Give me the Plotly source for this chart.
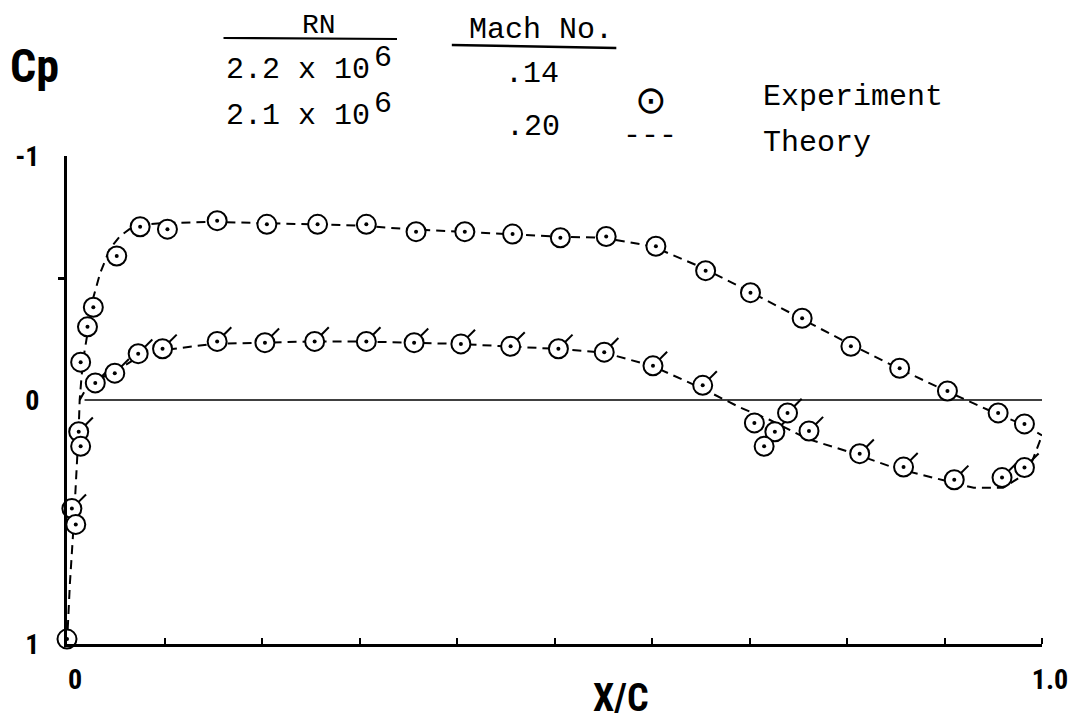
import plotly.graph_objects as go

# ---------------- data ----------------
# experiment, plain circles
plain_x = [0.000, 0.009, 0.014, 0.014, 0.021, 0.027, 0.051, 0.075, 0.103, 0.154,
           0.205, 0.257, 0.307, 0.358, 0.408, 0.457, 0.506, 0.553, 0.604, 0.655,
           0.701, 0.754, 0.804, 0.854, 0.903, 0.955, 0.982, 1.002, 0.705, 0.715]
plain_cp = [0.98, 0.51, 0.19, -0.155, -0.30, -0.38, -0.59, -0.71, -0.70, -0.735,
            -0.72, -0.72, -0.72, -0.69, -0.69, -0.68, -0.665, -0.67, -0.63, -0.53,
            -0.44, -0.335, -0.22, -0.13, -0.037, 0.053, 0.098, 0.145, 0.094, 0.19]

# experiment, flagged circles
flag_x = [0.005, 0.012, 0.029, 0.049, 0.073, 0.098, 0.154, 0.203, 0.254, 0.307,
          0.356, 0.404, 0.455, 0.504, 0.551, 0.601, 0.652, 0.726, 0.739, 0.761,
          0.813, 0.858, 0.910, 0.959, 0.982]
flag_cp = [0.445, 0.13, -0.07, -0.11, -0.19, -0.21, -0.24, -0.235, -0.24, -0.24,
           -0.235, -0.23, -0.22, -0.21, -0.196, -0.14, -0.06, 0.13, 0.053, 0.127,
           0.22, 0.275, 0.327, 0.318, 0.277]

# theory, upper branch
theory_up_x = [0.0, 0.003, 0.007, 0.010, 0.012, 0.013, 0.015, 0.018, 0.022, 0.027,
               0.034, 0.044, 0.054, 0.064, 0.08, 0.10, 0.15, 0.20, 0.25, 0.30,
               0.35, 0.40, 0.45, 0.50, 0.55, 0.60, 0.65, 0.70, 0.75, 0.80,
               0.85, 0.90, 0.95, 0.98, 1.0]
theory_up_cp = [1.0, 0.75, 0.5, 0.3, 0.12, 0.0, -0.1, -0.2, -0.3, -0.42,
                -0.52, -0.62, -0.67, -0.70, -0.72, -0.725, -0.73, -0.725, -0.72, -0.715,
                -0.70, -0.69, -0.68, -0.67, -0.665, -0.63, -0.545, -0.445, -0.34, -0.235,
                -0.135, -0.04, 0.05, 0.10, 0.145]

# theory, lower branch
theory_lo_x = [0.013, 0.02, 0.03, 0.05, 0.075, 0.10, 0.15, 0.20, 0.25, 0.30,
               0.35, 0.40, 0.45, 0.50, 0.55, 0.60, 0.65, 0.69, 0.72, 0.76,
               0.80, 0.85, 0.90, 0.93, 0.96, 0.98, 0.99, 1.0]
theory_lo_cp = [0.0, -0.05, -0.08, -0.12, -0.18, -0.205, -0.23, -0.235, -0.24, -0.24,
                -0.235, -0.23, -0.22, -0.21, -0.195, -0.14, -0.05, 0.03, 0.08, 0.16,
                0.21, 0.28, 0.33, 0.36, 0.36, 0.31, 0.25, 0.145]

x_tick_vals = [0, 1]
x_tick_text = ["0", "1.0"]
x_minor_ticks = [0.1, 0.2, 0.3, 0.4, 0.5, 0.6, 0.7, 0.8, 0.9, 1.0]
y_tick_vals = [-1, 0, 1]
y_tick_text = ["-1", "0", "1"]
y_minor_ticks = [-0.5]

rn_values = ["2.2 x 10", "2.1 x 10"]
rn_exponent = "6"
mach_values = [".14", ".20"]

# ---------------- layout helpers ----------------
W, H = 1080, 726
L, R, T, B = 67, 1045, 156, 644


def px(xp):
    return (xp - L) / (R - L)


def py(yp):
    return (B - yp) / (B - T)


LABEL_FONT = "Roboto Condensed, Open Sans Condensed, DejaVu Sans Condensed, sans-serif"
TYPE_FONT = "Liberation Mono, Courier New, DejaVu Sans Mono, monospace"

fig = go.Figure()

dash = "9px,6px"
fig.add_trace(go.Scatter(x=theory_up_x, y=theory_up_cp, mode="lines",
                         line=dict(color="black", width=2, dash=dash),
                         hoverinfo="skip", showlegend=False, cliponaxis=False))
fig.add_trace(go.Scatter(x=theory_lo_x, y=theory_lo_cp, mode="lines",
                         line=dict(color="black", width=2, dash=dash),
                         hoverinfo="skip", showlegend=False, cliponaxis=False))
# flags of the flagged circles
fig.add_trace(go.Scatter(x=flag_x, y=flag_cp, mode="markers",
                         marker=dict(symbol="line-ns", size=10, angle=225, standoff=13,
                                     line=dict(color="black", width=2)),
                         hoverinfo="skip", showlegend=False, cliponaxis=False))
for xs, ys in ((flag_x, flag_cp), (plain_x, plain_cp)):
    fig.add_trace(go.Scatter(x=xs, y=ys, mode="markers",
                             marker=dict(symbol="circle", size=19, color="white",
                                         line=dict(color="black", width=2)),
                             showlegend=False, cliponaxis=False))
    fig.add_trace(go.Scatter(x=xs, y=ys, mode="markers",
                             marker=dict(symbol="circle", size=4, color="black",
                                         line=dict(width=0)),
                             hoverinfo="skip", showlegend=False, cliponaxis=False))

shapes = [
    dict(type="line", xref="x", yref="y", x0=0.018, x1=1.0, y0=0, y1=0,
         line=dict(color="black", width=1.6), layer="below"),
    dict(type="line", xref="paper", yref="paper", x0=px(224), x1=px(398),
         y0=py(38), y1=py(39), line=dict(color="black", width=2.2)),
    dict(type="line", xref="paper", yref="paper", x0=px(453), x1=px(618),
         y0=py(45), y1=py(48), line=dict(color="black", width=2.5)),
]

annotations = []


def ann(text, xp, yp, size, family, xanchor="center", yanchor="middle", weight="normal"):
    annotations.append(dict(text=text, x=px(xp), y=py(yp), xref="paper", yref="paper",
                            xanchor=xanchor, yanchor=yanchor, showarrow=False,
                            font=dict(size=size, family=family, color="black",
                                      weight=weight)))


ann("Cp", 34, 66, 46, LABEL_FONT, weight="bold")
ann("X/C", 623, 722, 38, LABEL_FONT, yanchor="bottom", weight="bold")
ann("RN", 320, 25, 28, TYPE_FONT)
ann(rn_values[0], 224, 70, 30, TYPE_FONT, xanchor="left")
ann(rn_exponent, 384, 58, 30, TYPE_FONT)
ann(rn_values[1], 224, 116, 30, TYPE_FONT, xanchor="left")
ann(rn_exponent, 384, 104, 30, TYPE_FONT)
ann("Mach No.", 542, 30, 30, TYPE_FONT)
ann(mach_values[0], 533, 74, 30, TYPE_FONT)
ann(mach_values[1], 534, 127, 30, TYPE_FONT)
ann("⊙", 653, 100, 38, "DejaVu Sans")
ann("---", 652, 136, 30, TYPE_FONT)
ann("Experiment", 763, 97, 30, TYPE_FONT, xanchor="left")
ann("Theory", 763, 143, 30, TYPE_FONT, xanchor="left")

fig.update_layout(
    width=W, height=H,
    margin=dict(l=L, r=W - R, t=T, b=H - B, pad=0),
    paper_bgcolor="white", plot_bgcolor="white",
    shapes=shapes, annotations=annotations,
    xaxis=dict(range=[0, 1], showgrid=False, zeroline=False,
               showline=True, linecolor="black", linewidth=3,
               tickmode="array", tickvals=x_tick_vals, ticktext=x_tick_text,
               ticks="", ticklabelstandoff=8, ticklabelshift=8,
               tickfont=dict(size=28, family=LABEL_FONT, color="black", weight="bold"),
               minor=dict(tickmode="array", tickvals=x_minor_ticks, ticks="inside",
                          ticklen=6, tickwidth=2, tickcolor="black", showgrid=False)),
    yaxis=dict(range=[1, -1], showgrid=False, zeroline=False,
               showline=True, linecolor="black", linewidth=3,
               tickmode="array", tickvals=y_tick_vals, ticktext=y_tick_text,
               ticks="", ticklabelstandoff=19,
               tickfont=dict(size=28, family=LABEL_FONT, color="black", weight="bold"),
               minor=dict(tickmode="array", tickvals=y_minor_ticks, ticks="outside",
                          ticklen=6, tickwidth=3, tickcolor="black", showgrid=False)),
)

fig.write_html("out.html", config={"displayModeBar": False},
               post_script="document.body.style.margin='0';document.body.style.overflow='hidden';")
